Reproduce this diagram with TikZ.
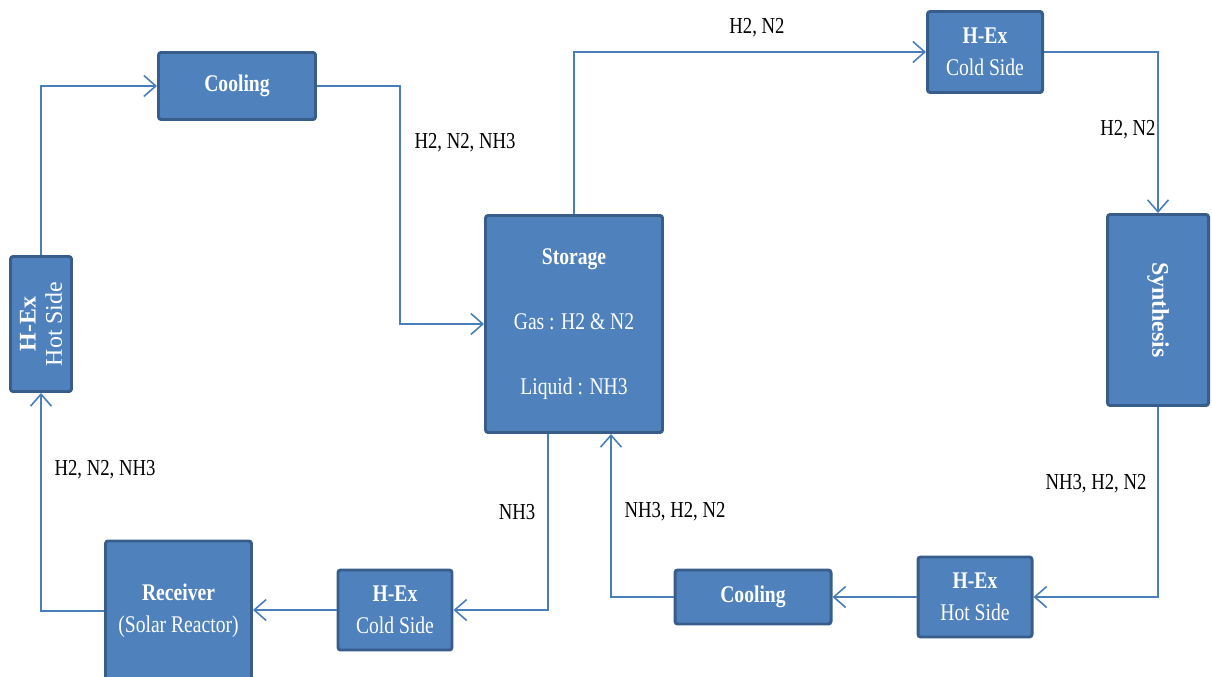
\documentclass[tikz,border=0pt]{standalone}
\usepackage{fontspec}
\setmainfont{Liberation Serif}[FakeStretch=0.82]
\newfontfamily\uprightfont{Liberation Serif}
\usepackage{tikz}
\usetikzlibrary{arrows.meta,positioning,calc}
\definecolor{hxfill}{RGB}{79,129,189}
\definecolor{hxedge}{RGB}{56,93,138}
\definecolor{hxline}{RGB}{74,126,187}
\tikzstyle{unit} = [draw=hxedge, fill=hxfill, line width=1.7pt, rounded corners=1.5pt, text=white, align=center, inner sep=2pt, font=\fontsize{13.6}{15}\selectfont]
\tikzstyle{tallunit} = [unit, font=\uprightfont\fontsize{13.6}{15}\selectfont]
\tikzstyle{arrow} = [line width=0.9pt, color=hxline, -{Straight Barb[length=2.4mm,width=4.2mm]}]
\tikzstyle{flow} = [text=black, font=\fontsize{13}{15}\selectfont, inner sep=0pt]

\begin{document}
\begin{tikzpicture}
\useasboundingbox (0,0) rectangle (24.24,-13.54);
% Units
\node[tallunit, rotate=90, minimum width=2.7cm, minimum height=1.22cm] (hothex) at (0.82,-6.48) {\textbf{H-Ex}\\Hot Side};
\node[unit, minimum width=3.14cm, minimum height=1.34cm] (coolA) at (4.74,-1.72) {\textbf{Cooling}};
\node[unit, minimum width=3.54cm, minimum height=4.34cm] (storage) at (11.48,-6.48) {\textbf{Storage}\\[0.78cm]Gas : H2 \& N2\\[0.78cm]Liquid : NH3};
\node[unit, minimum width=2.3cm, minimum height=1.62cm] (coldhexA) at (19.7,-1.04) {\textbf{H-Ex}\\[3pt]Cold Side};
\node[tallunit, rotate=-90, minimum width=3.82cm, minimum height=2.02cm] (synth) at (23.16,-6.2) {\textbf{Synthesis}};
\node[unit, minimum width=2.28cm, minimum height=1.6cm] (hothexB) at (19.5,-11.94) {\textbf{H-Ex}\\[3pt]Hot Side};
\node[unit, minimum width=3.12cm, minimum height=1.08cm] (coolB) at (15.06,-11.94) {\textbf{Cooling}};
\node[unit, minimum width=2.28cm, minimum height=1.6cm] (coldhexB) at (7.9,-12.2) {\textbf{H-Ex}\\[3pt]Cold Side};
\node[unit, minimum width=2.92cm, minimum height=2.8cm] (receiver) at (3.57,-12.22) {\textbf{Receiver}\\[3pt](Solar Reactor)};

% Streams
\draw[arrow] (hothex) |- (coolA);
\draw[arrow] (coolA.east) -- ++(1.66,0) |- (storage.west);
\draw[arrow] (storage) |- (coldhexA);
\draw[arrow] (coldhexA) -| (synth);
\draw[arrow] (synth) |- (hothexB);
\draw[arrow] (hothexB) -- (coolB);
\draw[arrow] (coolB.west) -| ([xshift=0.74cm]storage.south);
\draw[arrow] ([xshift=-0.52cm]storage.south) |- (coldhexB);
\draw[arrow] (coldhexB.west) -- (coldhexB.west -| receiver.east);
\draw[arrow] (receiver.west) -| (hothex);

% Stream labels
\node[flow] (lblA) at (9.3,-2.86) {H2, N2, NH3};
\node[flow] (lblB) at (15.14,-0.56) {H2, N2};
\node[flow] (lblC) at (22.56,-2.6) {H2, N2};
\node[flow] (lblD) at (21.92,-9.68) {NH3, H2, N2};
\node[flow] (lblE) at (13.5,-10.24) {NH3, H2, N2};
\node[flow] (lblF) at (10.34,-10.24) {NH3};
\node[flow] (lblG) at (2.1,-9.4) {H2, N2, NH3};
\end{tikzpicture}
\end{document}
